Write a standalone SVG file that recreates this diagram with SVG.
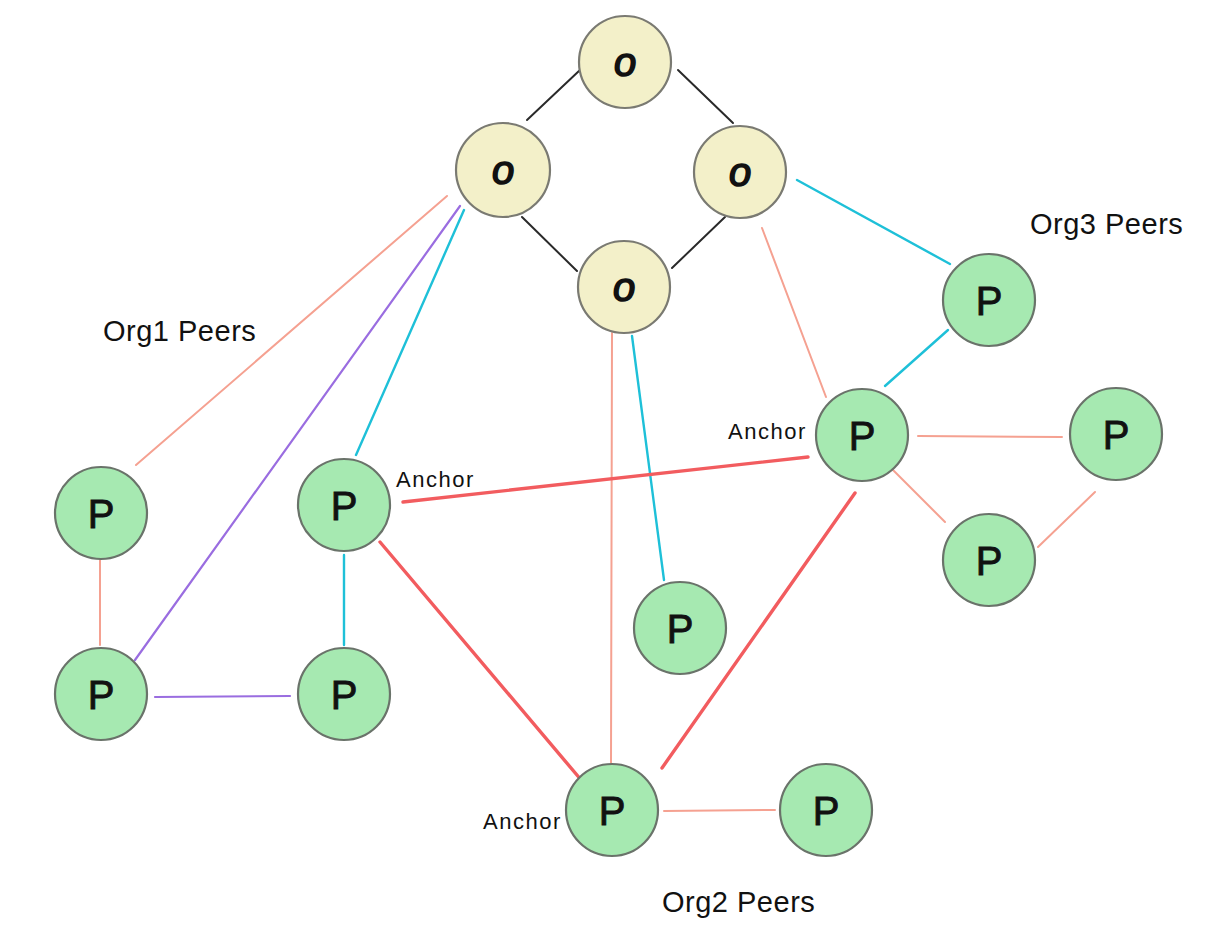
<svg xmlns="http://www.w3.org/2000/svg" width="1232" height="946" viewBox="0 0 1232 946">
<style>
.o circle{fill:#f3f0c9;stroke:#7a7a72;stroke-width:2.2}
.p circle{fill:#a6e9b1;stroke:#6a736a;stroke-width:2.2}
.lt{font-family:"Liberation Sans",Arial,sans-serif;fill:#111;text-anchor:middle}
.ol{font-size:40px;font-style:italic;stroke:#111;stroke-width:1.6}
.pl{font-size:40px;stroke:#111;stroke-width:0.9}
.lbl{font-family:"Liberation Sans",Arial,sans-serif;fill:#111}
.org{font-size:29px;letter-spacing:0.5px}
.anc{font-size:22px;letter-spacing:1.5px}
.k{stroke:#2a2a2a;stroke-width:2}
.s{stroke:#f5a191;stroke-width:2}
.c{stroke:#1ec0d8;stroke-width:2.4}
.v{stroke:#9a6de0;stroke-width:2.2}
.r{stroke:#f25c5f;stroke-width:3.4}
</style>
<rect width="1232" height="946" fill="#fff"/>
<g id="connectors" fill="none" stroke-linecap="round">
<line class="k" x1="527" y1="120" x2="580" y2="70"/>
<line class="k" x1="678" y1="70" x2="733" y2="123"/>
<line class="k" x1="522" y1="217" x2="577" y2="271"/>
<line class="k" x1="725" y1="217" x2="672" y2="268"/>
<line class="s" x1="447" y1="196" x2="136" y2="465"/>
<line class="s" x1="762" y1="228" x2="826" y2="397"/>
<line class="s" x1="612" y1="333" x2="611" y2="763"/>
<line class="s" x1="100" y1="560" x2="100" y2="645"/>
<line class="s" x1="918" y1="436" x2="1062" y2="437"/>
<line class="s" x1="893" y1="470" x2="945" y2="522"/>
<line class="s" x1="1038" y1="547" x2="1095" y2="492"/>
<line class="s" x1="664" y1="811" x2="775" y2="810"/>
<line class="c" x1="464" y1="210" x2="356" y2="455"/>
<line class="c" x1="797" y1="180" x2="950" y2="264"/>
<line class="c" x1="948" y1="330" x2="885" y2="386"/>
<line class="c" x1="632" y1="336" x2="664" y2="580"/>
<line class="c" x1="344" y1="555" x2="344" y2="645"/>
<line class="v" x1="460" y1="206" x2="135" y2="660"/>
<line class="v" x1="155" y1="697" x2="290" y2="696"/>
<line class="r" x1="403" y1="502" x2="808" y2="457"/>
<line class="r" x1="380" y1="542" x2="582" y2="781"/>
<line class="r" x1="855" y1="493" x2="662" y2="768"/>
</g>
<g id="o-top" class="o"><circle cx="625" cy="62" r="46"/><text class="lt ol" x="625" y="76">o</text></g>
<g id="o-left" class="o"><circle cx="503" cy="170" r="47"/><text class="lt ol" x="503" y="184">o</text></g>
<g id="o-right" class="o"><circle cx="740" cy="172" r="46"/><text class="lt ol" x="740" y="186">o</text></g>
<g id="o-bottom" class="o"><circle cx="624" cy="287" r="46"/><text class="lt ol" x="624" y="301">o</text></g>
<g id="org1-p1" class="p"><circle cx="101" cy="513" r="46"/><text class="lt pl" x="101" y="528">P</text></g>
<g id="org1-anchor" class="p"><circle cx="344" cy="505" r="46"/><text class="lt pl" x="344" y="520">P</text></g>
<g id="org1-p3" class="p"><circle cx="101" cy="694" r="46"/><text class="lt pl" x="101" y="709">P</text></g>
<g id="org1-p4" class="p"><circle cx="344" cy="694" r="46"/><text class="lt pl" x="344" y="709">P</text></g>
<g id="org2-anchor" class="p"><circle cx="612" cy="810" r="46"/><text class="lt pl" x="612" y="825">P</text></g>
<g id="org2-p2" class="p"><circle cx="826" cy="810" r="46"/><text class="lt pl" x="826" y="825">P</text></g>
<g id="org2-p3" class="p"><circle cx="680" cy="628" r="46"/><text class="lt pl" x="680" y="643">P</text></g>
<g id="org3-p1" class="p"><circle cx="989" cy="300" r="46"/><text class="lt pl" x="989" y="315">P</text></g>
<g id="org3-anchor" class="p"><circle cx="862" cy="435" r="46"/><text class="lt pl" x="862" y="450">P</text></g>
<g id="org3-p3" class="p"><circle cx="1116" cy="434" r="46"/><text class="lt pl" x="1116" y="449">P</text></g>
<g id="org3-p4" class="p"><circle cx="989" cy="560" r="46"/><text class="lt pl" x="989" y="575">P</text></g>
<g id="labels">
<text class="lbl org" x="103" y="341">Org1 Peers</text>
<text class="lbl org" x="1030" y="234">Org3 Peers</text>
<text class="lbl org" x="662" y="912">Org2 Peers</text>
<text class="lbl anc" x="396" y="487">Anchor</text>
<text class="lbl anc" x="728" y="439">Anchor</text>
<text class="lbl anc" x="483" y="829">Anchor</text>
</g>
</svg>
